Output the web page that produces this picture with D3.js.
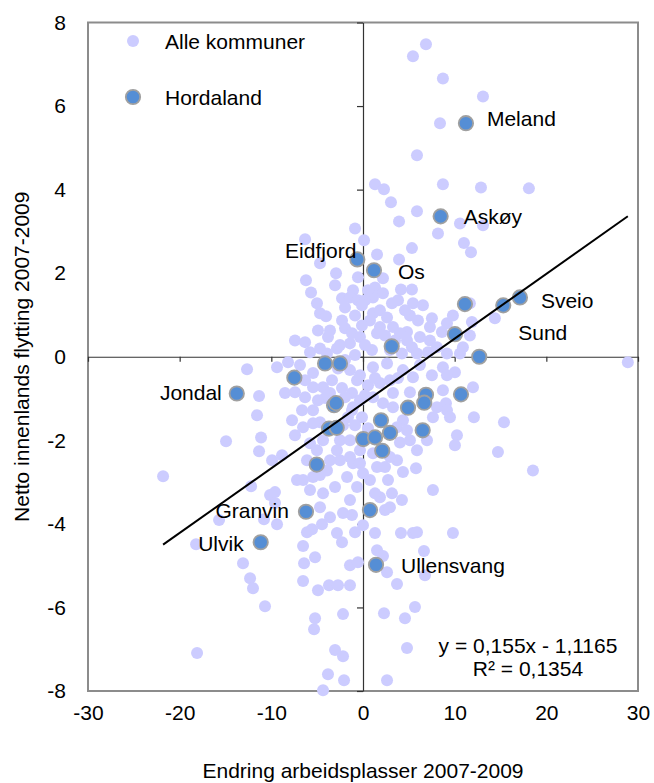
<!DOCTYPE html>
<html><head><meta charset="utf-8">
<script src="https://cdn.jsdelivr.net/npm/d3@7"></script>
<style>body{margin:0;background:#fff}svg{display:block}text{font-family:"Liberation Sans",Arial,sans-serif;fill:#000}</style>
</head><body><svg id="c" width="654" height="783"></svg>
<script>
// ---- data ----
const allX = [6.87,5.45,8.72,13.09,8.40,5.89,1.31,2.29,8.72,12.87,18.10,3.05,3.93,5.89,8.18,10.58,11.01,11.78,13.09,5.34,1.53,3.93,2.18,4.14,5.34,1.31,2.18,3.16,5.45,6.54,5.12,7.52,9.16,9.81,8.61,7.30,6.21,4.80,3.27,1.85,7.30,10.58,5.34,11.66,11.88,14.39,11.66,28.89,
1.09,1.09,1.85,2.62,1.53,2.40,4.03,4.80,5.89,7.09,8.07,9.16,10.90,2.94,4.25,0.98,
-0.87,-6.32,0.11,-4.69,-2.94,-6.22,-5.67,-3.05,-1.09,-0.55,-2.29,-1.42,-0.55,-5.02,-4.69,-4.03,-1.96,-2.29,-1.96,-1.20,-0.33,-7.42,-6.32,-3.82,-5.78,-4.69,-2.84,-1.42,-3.93,
-11.34,-11.56,-11.12,-11.34,-14.94,-21.81,-12.21,-15.70,-10.80,-18.21,-13.09,-12.32,-12.00,-10.69,-18.10,-10.14,-12.65,
12.00,12.10,15.38,14.72,18.54,
8.72,9.05,9.16,10.25,10.03,7.63,5.78,4.36,3.71,2.40,5.12,4.03,3.16,4.25,1.85,2.40,2.94,8.72,10.03,9.16,
1.09,2.62,4.36,5.45,2.94,1.85,3.27,1.09,2.18,3.27,4.36,3.71,4.80,1.09,2.94,1.53,0.76,2.73,1.31,7.63,8.07,9.49,5.89,6.98,
-9.38,-8.51,-7.42,-6.32,-6.65,-7.74,-7.42,-6.54,-5.45,-5.78,-5.02,-4.36,-8.83,-9.92,-6.54,-7.20,-5.45,-4.69,-5.78,-4.36,-3.05,-1.74,-1.09,-1.42,-2.51,-0.65,-1.42,-9.60,-9.60,-4.69,-3.60,-2.18,-1.20,-5.45,-4.36,-5.45,-3.38,-1.42,-0.65,-1.20,-1.96,-4.14,-1.09,-0.33,-0.11,-1.64,-4.69,-5.45,-2.51,-1.42,-0.33,-2.84,-3.60,-6.11,-0.33,0.00,-3.93,
-9.38,-6.11,-5.56,-4.47,-2.84,-2.29,-0.87,0.00,1.31,4.14,5.45,5.89,9.81,-6.54,-5.23,-6.43,-1.42,-0.55,1.53,2.18,6.65,6.76,2.62,-6.54,-4.91,-3.71,-2.73,-1.42,3.71,-2.18,-5.23,-5.34,2.29,4.58,5.67,4.80,-3.05,-2.18,-3.82,-2.07,2.62,-4.36,
0.22,0.55,0.76,-0.11,-0.87,0.22,-0.87,-1.96,-2.73,-0.33,0.55,1.31,-2.29,-3.60,-6.32,-4.91,-0.87,0.55,-2.18,3.82,4.58,6.00,3.49,6.21,7.52,3.82,5.12,-0.11,-2.51,-3.60,-4.91,-8.18,-6.87,0.22,-1.20];
const allY = [7.48,7.19,6.66,6.23,5.59,4.82,4.13,4.01,4.13,4.05,4.03,3.70,3.24,3.48,2.95,3.19,2.72,2.50,3.15,2.60,2.45,2.33,1.88,1.61,1.61,1.66,1.52,1.28,1.28,1.23,0.99,0.92,0.80,0.99,0.59,0.71,0.47,0.59,0.71,0.71,0.39,0.08,0.23,1.28,0.83,0.92,0.51,-0.13,
1.42,1.04,1.11,0.94,0.56,0.51,0.56,0.39,0.08,0.11,0.23,0.08,0.23,0.16,0.08,0.16,
3.07,2.81,2.79,2.24,2.00,1.83,1.54,1.71,1.59,1.90,1.40,1.42,1.35,1.28,1.04,0.97,1.18,0.87,0.68,0.56,0.47,0.39,0.35,0.47,0.11,0.20,0.20,0.32,0.08,
-0.94,-1.40,-1.93,-2.26,-2.02,-2.86,-3.10,-3.91,-3.89,-4.49,-4.94,-5.30,-5.54,-5.97,-7.09,-3.31,-0.30,
-0.73,-1.45,-1.57,-2.28,-2.72,
-0.80,-1.11,-1.28,-1.88,-2.12,-3.19,-2.67,-2.76,-2.48,-2.64,-2.00,-2.05,-3.27,-3.43,-3.36,-3.67,-3.60,-0.25,-0.37,-0.44,
-0.25,-0.16,-0.32,-0.49,-0.56,-0.63,-0.87,-0.97,-1.11,-1.21,-1.52,-1.69,-1.76,-2.31,-2.40,-2.64,-2.95,-2.95,-3.27,-1.45,-1.21,-1.45,-2.24,-2.00,
-0.25,-0.87,-0.85,-0.97,-1.28,-1.52,-1.88,-1.69,-1.28,-2.07,-2.24,-2.00,-2.36,-2.48,-2.95,-2.95,-2.88,-2.83,-3.19,-3.27,-3.12,-2.88,-2.55,-2.40,-2.48,-3.12,-3.43,-3.24,-3.50,-3.60,-3.84,-3.74,-3.79,-0.39,-0.73,-0.73,-0.56,-0.32,-0.56,-0.87,-0.97,-0.99,-1.21,-1.04,-1.45,-1.45,-1.57,-1.59,-2.00,-2.00,-2.24,-2.24,-2.48,-2.48,-2.55,-2.79,-2.72,
-4.01,-4.20,-4.13,-4.01,-4.22,-4.44,-4.20,-4.03,-4.22,-4.22,-4.22,-4.20,-4.22,-4.53,-4.80,-4.94,-4.99,-4.92,-4.63,-4.77,-4.65,-5.23,-5.16,-5.37,-5.59,-5.47,-5.47,-5.47,-5.44,-6.16,-6.26,-6.52,-6.14,-6.26,-5.99,-6.97,-7.02,-7.17,-7.60,-7.74,-7.74,-7.98,
1.35,1.59,0.87,0.75,0.99,0.28,0.04,-0.08,-0.28,-0.44,-0.68,-0.51,-0.75,-0.87,-0.56,-1.04,-1.64,-1.71,-1.64,1.35,1.11,0.87,0.39,-0.20,-0.44,-0.51,-0.85,1.23,0.28,0.63,0.63,-0.13,-0.20,-0.92,-1.28];

const hordNames = ["Meland","Askøy","Eidfjord","Os","","","","Sund","Sveio","","","","","Jondal","","","","","","","","","","","","","","","","Granvin","","Ullensvang","Ulvik"];
const hordX = [11.23,8.47,-0.62,1.20,11.12,10.03,3.13,15.30,17.12,12.68,-4.14,-2.51,-7.49,-13.77,-3.16,-2.94,-3.71,-2.87,0.03,-5.05,6.87,6.68,4.91,10.69,1.96,1.31,2.94,2.10,6.51,-6.22,0.76,1.42,-11.16];
const hordY = [5.59,3.36,2.33,2.07,1.26,0.54,0.25,1.23,1.42,0.00,-0.16,-0.16,-0.50,-0.88,-1.16,-1.11,-1.72,-1.70,-1.97,-2.58,-0.91,-1.10,-1.22,-0.90,-1.52,-1.93,-1.82,-2.25,-1.76,-3.71,-3.67,-4.98,-4.44];

const xTicks = [-30,-20,-10,0,10,20,30];
const yTicks = [-8,-6,-4,-2,0,2,4,6,8];
const legendLabels = ["Alle kommuner","Hordaland"];
const trendSlope = 0.155, trendIntercept = -1.1165;
const trendText = ["y = 0,155x - 1,1165","R² = 0,1354"];
const xTitle = "Endring arbeidsplasser 2007-2009";
const yTitle = "Netto innenlands flytting 2007-2009";

// ---- layout ----
const labelLayout = {
  "Meland":{dx:21,dy:-5,anchor:"start"},
  "Askøy":{dx:23,dy:0,anchor:"start"},
  "Eidfjord":{dx:-1,dy:-9,anchor:"end"},
  "Os":{dx:24,dy:1,anchor:"start"},
  "Sveio":{dx:21,dy:3,anchor:"start"},
  "Sund":{dx:15,dy:27,anchor:"start"},
  "Jondal":{dx:-15,dy:-1,anchor:"end"},
  "Granvin":{dx:-17,dy:-1,anchor:"end"},
  "Ulvik":{dx:-17,dy:1,anchor:"end"},
  "Ullensvang":{dx:25,dy:1,anchor:"start"}
};
const L=88,R=638,T=22.5,B=691, FS=21;
const svg = d3.select("#c");
const x = d3.scaleLinear().domain([-30,30]).range([L,R]);
const y = d3.scaleLinear().domain([-8,8]).range([B,T]);

// frame
svg.append("rect").attr("x",L).attr("y",T).attr("width",R-L).attr("height",B-T)
  .attr("fill","#fff").attr("stroke","#8c8c8c").attr("stroke-width",2);

// axis lines through zero with ticks
const ax = svg.append("g").attr("transform",`translate(0,${y(0)})`)
  .call(d3.axisBottom(x).tickValues(xTicks).tickSize(5).tickSizeOuter(0).tickFormat(""));
const ay = svg.append("g").attr("transform",`translate(${x(0)},0)`)
  .call(d3.axisLeft(y).tickValues(yTicks).tickSize(6).tickSizeOuter(0).tickFormat(""));
[ax,ay].forEach(g=>{g.selectAll("path,line").attr("stroke","#333").attr("stroke-width",1.2);});

// tick labels at low position
const lx = svg.append("g").attr("transform",`translate(0,${B})`)
  .call(d3.axisBottom(x).tickValues(xTicks).tickSize(0).tickPadding(14).tickFormat(d=>String(d)));
const ly = svg.append("g").attr("transform",`translate(${L},0)`)
  .call(d3.axisLeft(y).tickValues(yTicks).tickSize(0).tickPadding(22).tickFormat(d=>String(d)));
[lx,ly].forEach(g=>{g.select(".domain").remove();g.selectAll("text").attr("font-size",FS).attr("font-family","Liberation Sans, Arial, sans-serif").attr("fill","#000");});

// light points
const allData = allX.map((v,i)=>({x:v,y:allY[i]}));
svg.append("g").selectAll("circle").data(allData).join("circle")
  .attr("cx",d=>x(d.x)).attr("cy",d=>y(d.y)).attr("r",6).attr("fill","#ccccff");

// Hordaland points
const hord = hordX.map((v,i)=>({x:v,y:hordY[i],name:hordNames[i]}));
svg.append("g").selectAll("circle").data(hord).join("circle")
  .attr("cx",d=>x(d.x)).attr("cy",d=>y(d.y)).attr("r",7.2)
  .attr("fill","#558ed5").attr("stroke","#a0a0a0").attr("stroke-width",1.8);

// trendline
const xmin = d3.min(allX), xmax = d3.max(allX);
svg.append("line").attr("x1",x(xmin)).attr("y1",y(trendSlope*xmin+trendIntercept))
  .attr("x2",x(xmax)).attr("y2",y(trendSlope*xmax+trendIntercept))
  .attr("stroke","#000").attr("stroke-width",2);

// labels
svg.append("g").selectAll("text").data(hord.filter(d=>d.name)).join("text")
  .attr("x",d=>x(d.x)+labelLayout[d.name].dx).attr("y",d=>y(d.y)+labelLayout[d.name].dy)
  .attr("text-anchor",d=>labelLayout[d.name].anchor).attr("dominant-baseline","central")
  .attr("font-size",FS).text(d=>d.name);

// legend
const lg = svg.append("g");
lg.append("circle").attr("cx",133).attr("cy",41).attr("r",6).attr("fill","#ccccff");
lg.append("circle").attr("cx",133).attr("cy",97).attr("r",7.2).attr("fill","#558ed5").attr("stroke","#a0a0a0").attr("stroke-width",1.8);
lg.selectAll("text").data(legendLabels).join("text").attr("x",165).attr("y",(d,i)=>41+i*56)
  .attr("dominant-baseline","central").attr("font-size",FS).text(d=>d);

// equation
svg.append("g").selectAll("text").data(trendText).join("text")
  .attr("x",528).attr("y",(d,i)=>645+i*23).attr("text-anchor","middle")
  .attr("dominant-baseline","central").attr("font-size",FS).text(d=>d);

// titles
svg.append("text").attr("x",(L+R)/2).attr("y",770).attr("text-anchor","middle")
  .attr("dominant-baseline","central").attr("font-size",FS).text(xTitle);
svg.append("text").attr("transform",`translate(21,${(T+B)/2}) rotate(-90)`).attr("text-anchor","middle")
  .attr("dominant-baseline","central").attr("font-size",FS).text(yTitle);
</script></body></html>
